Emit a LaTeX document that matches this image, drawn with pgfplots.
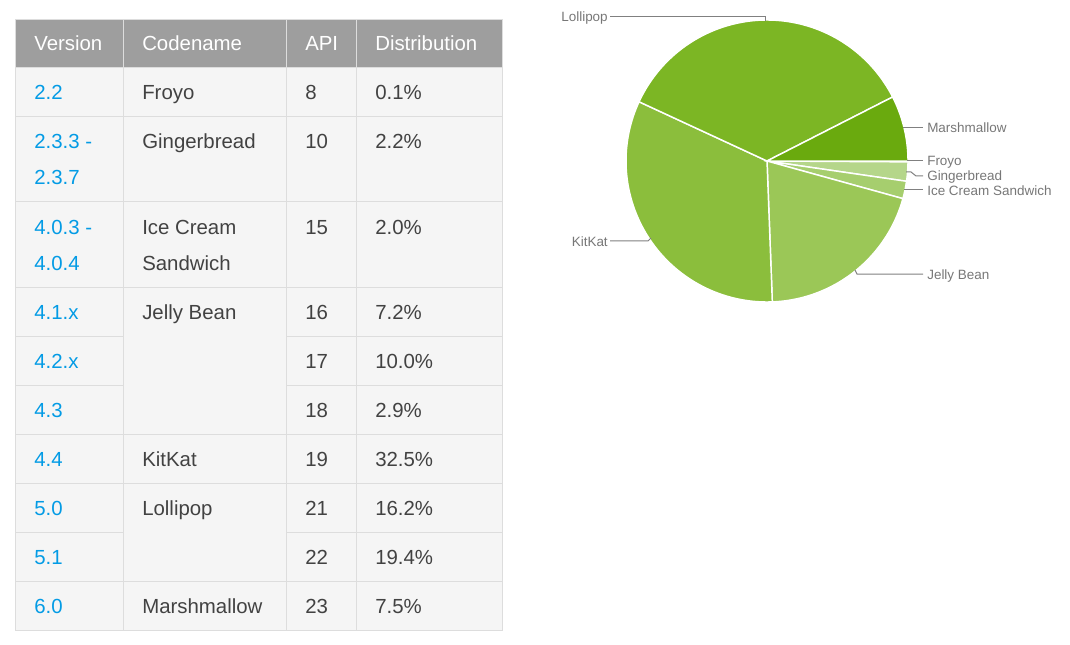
\documentclass[border=0pt]{standalone}
\usepackage{pgfplots}
\pgfplotsset{compat=1.18}
\usepackage{fontspec}
\setmainfont{Liberation Sans}
\definecolor{hdr}{RGB}{158,158,158}
\definecolor{cellbg}{RGB}{245,245,245}
\definecolor{grid}{RGB}{221,221,221}
\definecolor{blue}{RGB}{3,155,229}
\definecolor{txt}{RGB}{66,66,66}
\definecolor{lbl}{RGB}{119,119,119}
\definecolor{lline}{RGB}{128,128,128}
\definecolor{cFroyo}{RGB}{205,228,170}
\definecolor{cGinger}{RGB}{181,214,138}
\definecolor{cICS}{RGB}{166,206,110}
\definecolor{cJB}{RGB}{155,199,87}
\definecolor{cKK}{RGB}{139,190,60}
\definecolor{cLP}{RGB}{124,182,36}
\definecolor{cMM}{RGB}{106,170,14}
\begin{document}
\begin{tikzpicture}
\begin{axis}[x=0.75pt,y=0.75pt,y dir=reverse,xmin=0,xmax=1070,ymin=0,ymax=645,
  hide axis,clip=false,scale only axis]
% ---- table ----
\fill[cellbg] (axis cs:15,20) rectangle (axis cs:502,630);
\fill[hdr] (axis cs:15,20) rectangle (axis cs:502,68);
\draw[grid,line width=0.75pt] (axis cs:15,20) rectangle (axis cs:502,630);
\draw[grid,line width=0.75pt] (axis cs:15,68) -- (axis cs:502,68);
\draw[grid,line width=0.75pt] (axis cs:15,117) -- (axis cs:502,117);
\draw[grid,line width=0.75pt] (axis cs:15,202) -- (axis cs:502,202);
\draw[grid,line width=0.75pt] (axis cs:15,287) -- (axis cs:502,287);
\draw[grid,line width=0.75pt] (axis cs:15,434) -- (axis cs:502,434);
\draw[grid,line width=0.75pt] (axis cs:15,483) -- (axis cs:502,483);
\draw[grid,line width=0.75pt] (axis cs:15,581) -- (axis cs:502,581);
\draw[grid,line width=0.75pt] (axis cs:15,336) -- (axis cs:123,336);
\draw[grid,line width=0.75pt] (axis cs:286,336) -- (axis cs:502,336);
\draw[grid,line width=0.75pt] (axis cs:15,385) -- (axis cs:123,385);
\draw[grid,line width=0.75pt] (axis cs:286,385) -- (axis cs:502,385);
\draw[grid,line width=0.75pt] (axis cs:15,532) -- (axis cs:123,532);
\draw[grid,line width=0.75pt] (axis cs:286,532) -- (axis cs:502,532);
\draw[grid,line width=0.75pt] (axis cs:123,20) -- (axis cs:123,630);
\draw[grid,line width=0.75pt] (axis cs:286,20) -- (axis cs:286,630);
\draw[grid,line width=0.75pt] (axis cs:356,20) -- (axis cs:356,630);
\begin{scope}[every node/.style={inner sep=0pt,anchor=base west,font=\fontsize{15.3}{18}\selectfont}]
\node[white] at (axis cs:34,51) {Version};
\node[white] at (axis cs:142,51) {Codename};
\node[white] at (axis cs:305,51) {API};
\node[white] at (axis cs:375,51) {Distribution};
% col1
\node[blue] at (axis cs:34,100) {2.2};
\node[blue] at (axis cs:34,149) {2.3.3 -};
\node[blue] at (axis cs:34,185) {2.3.7};
\node[blue] at (axis cs:34,234) {4.0.3 -};
\node[blue] at (axis cs:34,270) {4.0.4};
\node[blue] at (axis cs:34,319) {4.1.x};
\node[blue] at (axis cs:34,368) {4.2.x};
\node[blue] at (axis cs:34,417) {4.3};
\node[blue] at (axis cs:34,466) {4.4};
\node[blue] at (axis cs:34,515) {5.0};
\node[blue] at (axis cs:34,564) {5.1};
\node[blue] at (axis cs:34,613) {6.0};
% col2
\node[txt] at (axis cs:142,100) {Froyo};
\node[txt] at (axis cs:142,149) {Gingerbread};
\node[txt] at (axis cs:142,234) {Ice Cream};
\node[txt] at (axis cs:142,270) {Sandwich};
\node[txt] at (axis cs:142,319) {Jelly Bean};
\node[txt] at (axis cs:142,466) {KitKat};
\node[txt] at (axis cs:142,515) {Lollipop};
\node[txt] at (axis cs:142,613) {Marshmallow};
% col3
\node[txt] at (axis cs:305,100) {8};
\node[txt] at (axis cs:305,149) {10};
\node[txt] at (axis cs:305,234) {15};
\node[txt] at (axis cs:305,319) {16};
\node[txt] at (axis cs:305,368) {17};
\node[txt] at (axis cs:305,417) {18};
\node[txt] at (axis cs:305,466) {19};
\node[txt] at (axis cs:305,515) {21};
\node[txt] at (axis cs:305,564) {22};
\node[txt] at (axis cs:305,613) {23};
% col4
\node[txt] at (axis cs:375,100) {0.1\%};
\node[txt] at (axis cs:375,149) {2.2\%};
\node[txt] at (axis cs:375,234) {2.0\%};
\node[txt] at (axis cs:375,319) {7.2\%};
\node[txt] at (axis cs:375,368) {10.0\%};
\node[txt] at (axis cs:375,417) {2.9\%};
\node[txt] at (axis cs:375,466) {32.5\%};
\node[txt] at (axis cs:375,515) {16.2\%};
\node[txt] at (axis cs:375,564) {19.4\%};
\node[txt] at (axis cs:375,613) {7.5\%};
\end{scope}
% ---- pie (shares in %, clockwise from 3 o'clock) ----
\def\cum{0}
\pgfplotsforeachungrouped \share/\col in {0.1/cFroyo,2.2/cGinger,2.0/cICS,20.1/cJB,32.5/cKK,35.6/cLP,7.5/cMM}{%
  \pgfmathsetmacro\a{\cum*3.6}%
  \pgfmathsetmacro\cum{\cum+\share}%
  \pgfmathsetmacro\b{\cum*3.6}%
  \edef\temp{\noexpand\addplot[fill=\col,draw=white,line width=1.1pt,domain=\a:\b,samples=120,variable=\noexpand\t]
    ({767+141*cos(\noexpand\t)},{161+141*sin(\noexpand\t)}) -- (axis cs:767,161) -- cycle;}%
  \temp
}
% ---- pie labels ----
\draw[lline,line width=0.75pt] (axis cs:610,17) -- (axis cs:765,17) -- (axis cs:765,21);
\draw[lline,line width=0.75pt] (axis cs:903,128) -- (axis cs:923,128);
\draw[lline,line width=0.75pt] (axis cs:907,161) -- (axis cs:923,161);
\draw[lline,line width=0.75pt] (axis cs:906,172) -- (axis cs:911,172) -- (axis cs:916,176) -- (axis cs:923,176);
\draw[lline,line width=0.75pt] (axis cs:904,190) -- (axis cs:923,190);
\draw[lline,line width=0.75pt] (axis cs:855,270) -- (axis cs:857,274) -- (axis cs:923,274);
\draw[lline,line width=0.75pt] (axis cs:610,241) -- (axis cs:648,241) -- (axis cs:651,238);
\begin{scope}[every node/.style={inner sep=0pt,lbl,font=\fontsize{10.1}{12}\selectfont}]
\node[anchor=east] at (axis cs:608,18) {Lollipop};
\node[anchor=west] at (axis cs:927,128) {Marshmallow};
\node[anchor=west] at (axis cs:927,162) {Froyo};
\node[anchor=west] at (axis cs:927,177) {Gingerbread};
\node[anchor=west] at (axis cs:927,191) {Ice Cream Sandwich};
\node[anchor=west] at (axis cs:927,276) {Jelly Bean};
\node[anchor=east] at (axis cs:608,242) {KitKat};
\end{scope}
\path (axis cs:0,0) (axis cs:1070,645);
\end{axis}
\end{tikzpicture}
\end{document}
